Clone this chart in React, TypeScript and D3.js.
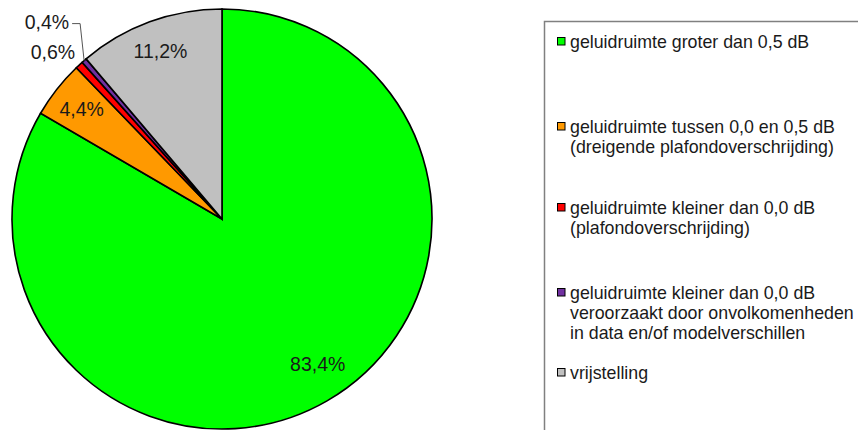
import * as d3 from "d3";

const categories = [
  "geluidruimte groter dan 0,5 dB",
  "geluidruimte tussen 0,0 en 0,5 dB|(dreigende plafondoverschrijding)",
  "geluidruimte kleiner dan 0,0 dB|(plafondoverschrijding)",
  "geluidruimte kleiner dan 0,0 dB|veroorzaakt door onvolkomenheden|in data en/of modelverschillen",
  "vrijstelling",
];
const values = [83.4, 4.4, 0.6, 0.4, 11.2];
const labels = ["83,4%", "4,4%", "0,6%", "0,4%", "11,2%"];
const colors = ["#00ff00", "#ff9900", "#ff0000", "#7030a0", "#c0c0c0"];
const legendRows = [42, 127, 208, 293, 373];

const W = 858;
const H = 430;
const cx = 222;
const cy = 219;
const R = 210;
const font = "'Liberation Sans', Arial, sans-serif";

export default function App() {
  const pie = d3
    .pie<number>()
    .sort(null)
    .value((d) => d)
    .startAngle(0)
    .endAngle(2 * Math.PI);
  const arcs = pie(values);
  const arc = d3.arc<d3.PieArcDatum<number>>().innerRadius(0).outerRadius(R);
  const labelArc = d3
    .arc<d3.PieArcDatum<number>>()
    .innerRadius(R * 0.85)
    .outerRadius(R * 0.85);
  // big slice label sits a bit further in, like Excel does
  const bigArc = d3
    .arc<d3.PieArcDatum<number>>()
    .innerRadius(R * 0.8)
    .outerRadius(R * 0.8);

  const edge = (a: d3.PieArcDatum<number>) => {
    const m = (a.startAngle + a.endAngle) / 2;
    return [R * Math.sin(m), -R * Math.cos(m)];
  };

  return (
    <svg
      width={W}
      height={H}
      style={{ position: "absolute", left: 0, top: 0, background: "#fff" }}
      fontFamily={font}
    >
      <g transform={`translate(${cx},${cy})`}>
        {arcs.map((a, i) => (
          <path key={i} d={arc(a) ?? ""} fill={colors[i]} stroke="#000" strokeWidth={1.6} />
        ))}
        {arcs.map((a, i) => {
          if (i === 2) {
            const [x, y] = edge(a);
            return (
              <text key={i} x={x - 4} y={y - 6} textAnchor="end" fontSize={19.5} fill="#1a1a1a">
                {labels[i]}
              </text>
            );
          }
          if (i === 3) {
            const [x, y] = edge(a);
            return (
              <g key={i}>
                <polyline
                  points={`${x},${y} ${x - 4},${y - 37} ${x - 12},${y - 37}`}
                  fill="none"
                  stroke="#555"
                  strokeWidth={1}
                />
                <text x={x - 15} y={y - 32} textAnchor="end" fontSize={19.5} fill="#1a1a1a">
                  {labels[i]}
                </text>
              </g>
            );
          }
          const [x, y] = i === 0 ? bigArc.centroid(a) : labelArc.centroid(a);
          return (
            <text
              key={i}
              x={x}
              y={y}
              dx={i === 0 ? 12 : 0}
              dy="0.35em"
              textAnchor="middle"
              fontSize={19.5}
              fill="#1a1a1a"
            >
              {labels[i]}
            </text>
          );
        })}
      </g>
      <rect x={544.5} y={21.5} width={330} height={430} fill="none" stroke="#808080" strokeWidth={1.5} />
      {categories.map((c, i) => (
        <g key={i}>
          <rect
            x={557.5}
            y={legendRows[i] - 4.5}
            width={7.5}
            height={7.5}
            fill={colors[i]}
            stroke="#000"
            strokeWidth={1}
          />
          {c.split("|").map((line, j) => (
            <text key={j} x={570} y={legendRows[i] + j * 20} dy="0.35em" fontSize={17.8} fill="#1a1a1a">
              {line}
            </text>
          ))}
        </g>
      ))}
    </svg>
  );
}
